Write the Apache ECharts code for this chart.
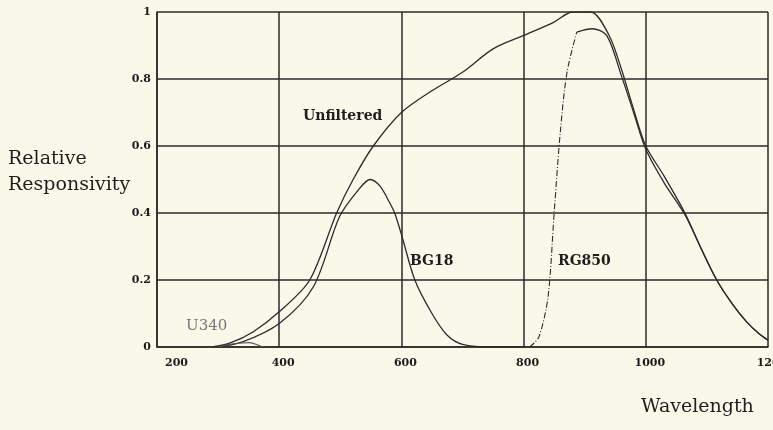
<!DOCTYPE html>
<html><head><meta charset="utf-8">
<script src="https://cdn.jsdelivr.net/npm/echarts@6/dist/echarts.min.js"></script>
<style>html,body{margin:0;padding:0;background:#faf8e8;}#c{width:773px;height:430px;}</style>
</head><body><div id="c"></div>
<script>
// ---- data ----
const xTicks = [200, 400, 600, 800, 1000, 1200];
const yTicks = [0, 0.2, 0.4, 0.6, 0.8, 1];

const unfWl  = [290, 320, 357, 400, 450, 494, 521, 554, 600, 650, 700, 750, 800, 850, 880, 910, 940, 960, 980, 1000, 1030, 1064, 1089, 1116, 1143, 1165, 1185, 1200];
const unfVal = [0, 0.012, 0.045, 0.105, 0.20, 0.40, 0.50, 0.60, 0.70, 0.765, 0.82, 0.89, 0.93, 0.97, 1.0, 1.0, 0.93, 0.83, 0.71, 0.60, 0.51, 0.40, 0.30, 0.20, 0.125, 0.075, 0.04, 0.02];

const bgWl  = [298, 340, 400, 456, 499, 530, 549, 565, 581, 589, 601, 622, 650, 675, 700, 750, 800];
const bgVal = [0, 0.015, 0.07, 0.18, 0.39, 0.47, 0.50, 0.48, 0.43, 0.40, 0.33, 0.20, 0.10, 0.035, 0.008, 0, 0];

const rgWl  = [810, 825, 840, 850, 860, 871, 887, 912, 936, 960, 980, 1000, 1030, 1064, 1089, 1116, 1143, 1165, 1185, 1200];
const rgVal = [0, 0.03, 0.15, 0.40, 0.64, 0.82, 0.94, 0.95, 0.93, 0.81, 0.70, 0.59, 0.49, 0.395, 0.30, 0.20, 0.125, 0.075, 0.04, 0.02];
const rgDashEnd = 6; // index where the dash-dot rising part ends

const uWl  = [300, 320, 340, 352, 365, 373];
const uVal = [0, 0.008, 0.012, 0.013, 0.006, 0];

const pairs = (xs, ys) => xs.map((x, i) => [x, ys[i]]);
const ink = '#2b2b2b';
const serif = 'DejaVu Serif';

const lineSeries = (data, opts) => Object.assign({
  type: 'line', data, showSymbol: false, smooth: 0.3,
  lineStyle: { color: ink, width: 1.3 }, silent: true, z: 3
}, opts);

const chart = echarts.init(document.getElementById('c'));
chart.setOption({
  backgroundColor: '#faf8e8',
  animation: false,
  grid: { left: 157, right: 5, top: 12, bottom: 83, containLabel: false, outerBoundsMode: 'none' },
  xAxis: {
    type: 'value', min: 200, max: 1200, interval: 200,
    axisLine: { show: true, lineStyle: { color: ink, width: 1.5 } },
    axisTick: { show: false },
    splitLine: { show: true, lineStyle: { color: ink, width: 1.5 } },
    axisLabel: { margin: 11, color: '#1a1a1a', fontFamily: serif, fontWeight: 'bold', fontSize: 11,
      padding: [0, 0, 0, 8], alignMinLabel: 'left', showMaxLabel: true, hideOverlap: false,
      formatter: v => xTicks.includes(v) ? String(v) : '' }
  },
  yAxis: {
    type: 'value', min: 0, max: 1, interval: 0.2,
    axisLine: { show: true, lineStyle: { color: ink, width: 1.5 } },
    axisTick: { show: false },
    splitLine: { show: true, lineStyle: { color: ink, width: 1.5 } },
    axisLabel: { margin: 6, color: '#1a1a1a', fontFamily: serif, fontWeight: 'bold', fontSize: 11,
      formatter: v => { const t = yTicks.find(k => Math.abs(k - v) < 1e-9); return t === undefined ? '' : (t === 0 || t === 1 ? String(t) : t.toFixed(1)); } }
  },
  series: [
    lineSeries(pairs(unfWl, unfVal)),
    lineSeries(pairs(bgWl, bgVal)),
    lineSeries(pairs(rgWl.slice(0, rgDashEnd + 1), rgVal.slice(0, rgDashEnd + 1)),
      { lineStyle: { color: ink, width: 1.1, type: [6, 2, 1, 2] } }),
    lineSeries(pairs(rgWl.slice(rgDashEnd), rgVal.slice(rgDashEnd))),
    lineSeries(pairs(uWl, uVal), { lineStyle: { color: '#555', width: 1.1 } })
  ],
  graphic: [
    { type: 'text', left: 8, top: 150, style: { text: 'Relative', font: '19px "DejaVu Serif"', fill: '#1e1e1e' } },
    { type: 'text', left: 8, top: 176, style: { text: 'Responsivity', font: '19px "DejaVu Serif"', fill: '#1e1e1e' } },
    { type: 'text', left: 641, top: 398, style: { text: 'Wavelength', font: '19px "DejaVu Serif"', fill: '#1e1e1e' } },
    { type: 'text', left: 303, top: 109, style: { text: 'Unfiltered', font: 'bold 14px "DejaVu Serif"', fill: '#1e1e1e' } },
    { type: 'text', left: 410, top: 254, style: { text: 'BG18', font: 'bold 14px "DejaVu Serif"', fill: '#1e1e1e' } },
    { type: 'text', left: 558, top: 254, style: { text: 'RG850', font: 'bold 14px "DejaVu Serif"', fill: '#1e1e1e' } },
    { type: 'text', left: 186, top: 319, style: { text: 'U340', font: '15px "DejaVu Serif"', fill: '#777' } }
  ]
});
</script></body></html>
